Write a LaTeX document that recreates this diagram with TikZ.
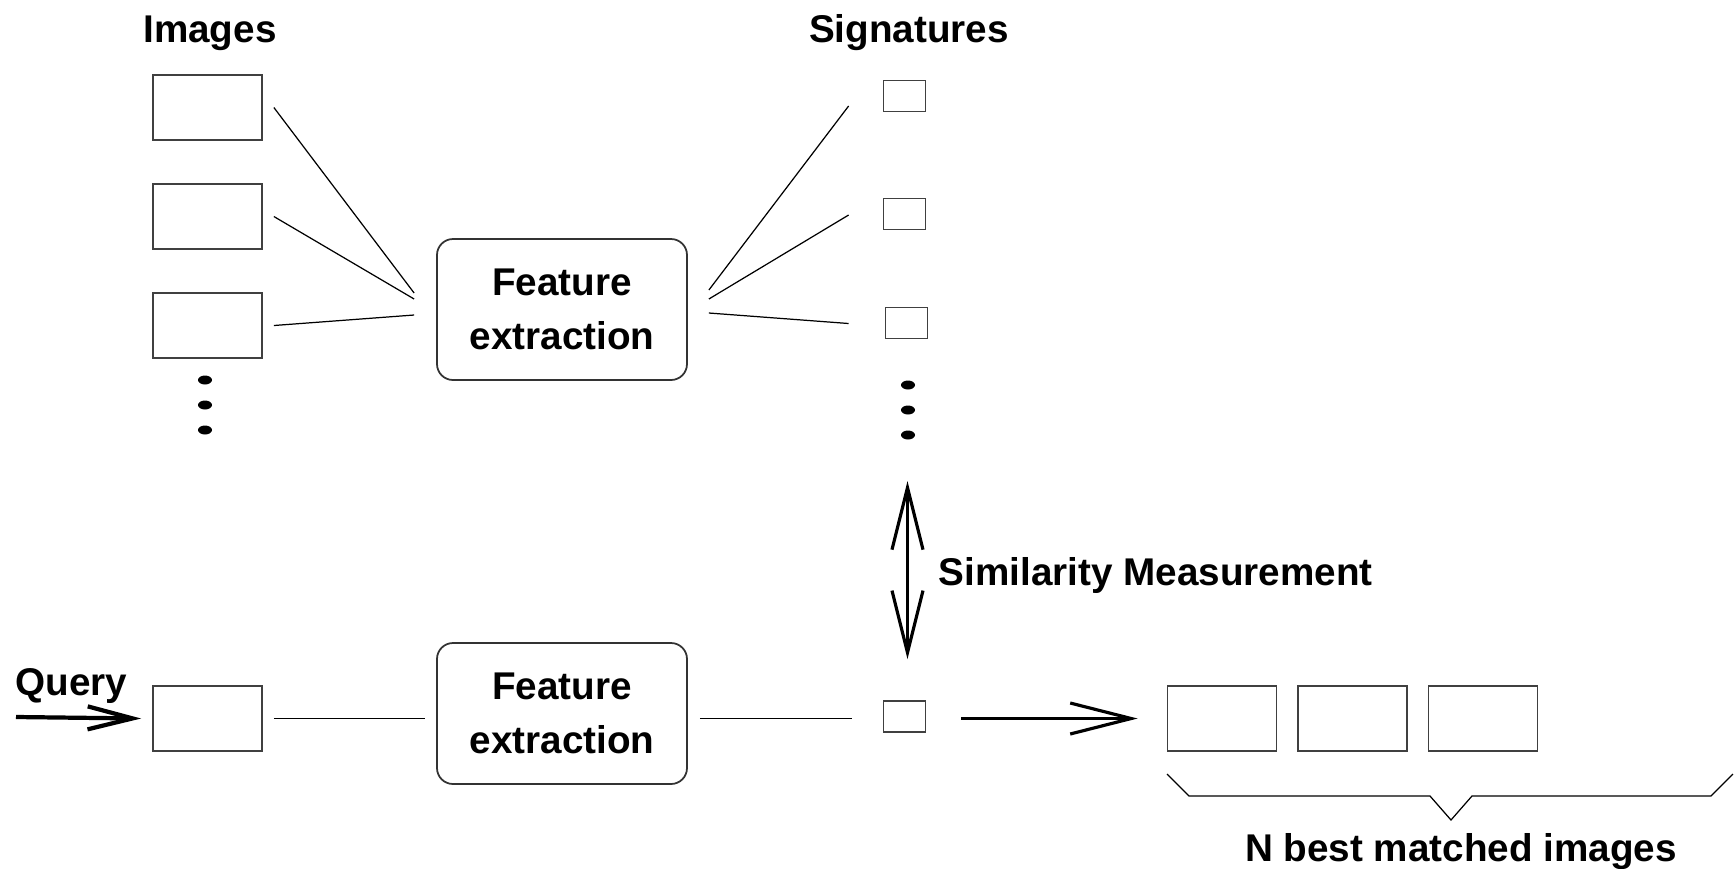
\documentclass[tikz,border=0pt]{standalone}
\usepackage{fontspec}
\setmainfont{Liberation Sans}
\usetikzlibrary{shapes.geometric, arrows.meta}
\tikzstyle{imgbox} = [rectangle,
	minimum width=1.09cm,
	minimum height=0.65cm,
	inner sep=0pt,
	draw=black!75,
	line width=0.5pt
	]
\tikzstyle{sigbox} = [rectangle,
	minimum width=0.42cm,
	minimum height=0.31cm,
	inner sep=0pt,
	draw=black!75,
	line width=0.5pt
	]
\tikzstyle{process} = [rectangle,
	rounded corners=0.16cm,
	minimum width=2.5cm,
	minimum height=1.41cm,
	text centered,
	align=center,
	draw=black!80,
	line width=0.5pt
	]
\tikzstyle{heading} = [inner sep=0pt]
\tikzstyle{link} = [line width=0.35pt]
\tikzstyle{arrow} = [line width=0.9pt,-{Straight Barb[length=0.61cm,width=0.31cm]}]
\tikzstyle{dblarrow} = [line width=0.9pt,{Straight Barb[length=0.62cm,width=0.31cm]}-{Straight Barb[length=0.62cm,width=0.31cm]}]
\tikzstyle{qarrow} = [line width=1.2pt,-{Straight Barb[length=0.45cm,width=0.23cm]}]

\begin{document}
\begin{tikzpicture}[font=\fontsize{11}{15.4}\selectfont\bfseries, node distance=1.09cm]

\useasboundingbox (0,0) rectangle (17.34,-8.68);

\node (hImg) [heading] at (2.10,-0.335) {Images};
\node (hSig) [heading] at (9.09,-0.33) {Signatures};

\node (imgA) [imgbox] at (2.075,-1.075) {};
\node (imgB) [imgbox, below of=imgA] {};
\node (imgC) [imgbox, below of=imgB] {};

\node (fe) [process] at (5.62,-3.095) {Feature\\extraction};

\node (sigA) [sigbox] at (9.045,-0.96) {};
\node (sigB) [sigbox] at (9.045,-2.14) {};
\node (sigC) [sigbox] at (9.065,-3.23) {};

\foreach \y in {-3.80,-4.05,-4.30}
	\fill (2.05,\y) ellipse (0.07 and 0.045);
\foreach \y in {-3.85,-4.10,-4.35}
	\fill (9.08,\y) ellipse (0.07 and 0.045);

\node (hQuery) [heading] at (0.715,-6.855) {Query};
\coordinate (qstart) at (0.16,-7.17);
\node (qimg) [imgbox] at (2.075,-7.185) {};
\node (fe2) [process] at (5.62,-7.135) {Feature\\extraction};
\node (qsig) [sigbox] at (9.045,-7.165) {};

\node (hSim) [heading, anchor=west] at (9.38,-5.75) {Similarity Measurement};

\node (resA) [imgbox] at (12.22,-7.185) {};
\node (resB) [imgbox] at (13.525,-7.185) {};
\node (resC) [imgbox] at (14.83,-7.185) {};

\node (hBest) [heading] at (14.61,-8.515) {N best matched images};

\draw [link] ([xshift=0.11cm]imgA.east) -- ([xshift=-0.22cm,yshift=0.165cm]fe.west);
\draw [link] ([xshift=0.11cm]imgB.east) -- ([xshift=-0.22cm,yshift=0.105cm]fe.west);
\draw [link] ([xshift=0.11cm]imgC.east) -- ([xshift=-0.22cm,yshift=-0.055cm]fe.west);

\draw [link] ([xshift=0.21cm,yshift=0.195cm]fe.east) -- ([xshift=-0.34cm,yshift=-0.10cm]sigA.west);
\draw [link] ([xshift=0.21cm,yshift=0.105cm]fe.east) -- ([xshift=-0.34cm,yshift=-0.01cm]sigB.west);
\draw [link] ([xshift=0.21cm,yshift=-0.035cm]fe.east) -- ([xshift=-0.36cm,yshift=-0.005cm]sigC.west);

\draw [qarrow] (qstart) -- ([xshift=-0.11cm]qimg.west);
\draw [link] ([xshift=0.11cm]qimg.east) -- ([xshift=-0.11cm]fe2.west |- qimg.east);
\draw [link] ([xshift=0.12cm]fe2.east |- qimg.east) -- ([xshift=-0.31cm]qsig.west |- qimg.east);
\draw [arrow] ([xshift=0.35cm]qsig.east |- qimg.east) -- ([xshift=-0.29cm]resA.west);

\draw [dblarrow] ([xshift=0.03cm,yshift=2.19cm]qsig.north) -- ([xshift=0.03cm,yshift=0.41cm]qsig.north);

\draw [link] (11.67,-7.74) -- (11.89,-7.96) -- (14.30,-7.96) -- (14.51,-8.20)
	-- (14.72,-7.96) -- (17.11,-7.96) -- (17.33,-7.74);

\end{tikzpicture}
\end{document}
